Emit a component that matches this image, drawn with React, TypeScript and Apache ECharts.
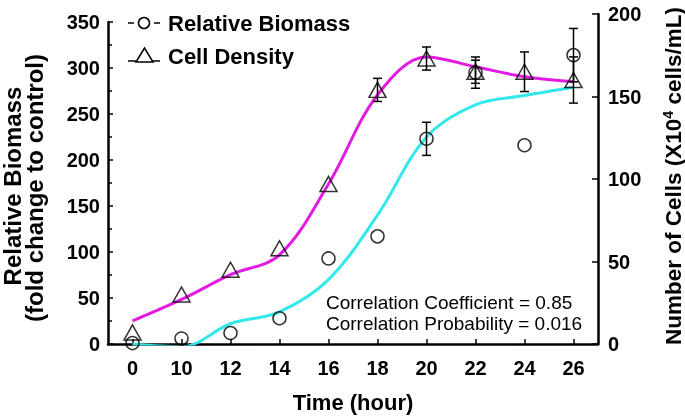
import React, { useEffect, useRef } from "react";
import * as echarts from "echarts";

const categories = ["0", "10", "12", "14", "16", "18", "20", "22", "24", "26"];
const biomass = [1, 6, 12, 28, 93, 117, 223, 295, 216, 314];
const biomassErr = [0, 0, 0, 0, 0, 0, 18, 17, 0, 29];
const cells = [7, 30, 45, 58, 97, 154, 173, 165, 165, 160];
const cellsErr = [0, 0, 0, 0, 0, 7, 7, 7, 12, 14];
const biomassFit = [0, -3, 22, 35, 70, 140, 225, 260, 270, 279];
const cellsFit = [14, 27, 42, 54, 97, 151, 174, 168, 162, 159];

const FONT = "Liberation Sans, Arial, sans-serif";

function errorSeries(vals: number[], errs: number[], xi: number, yi: number) {
  const data = vals.map((v, i) => [i, v, errs[i]]).filter((d) => d[2] > 0);
  return {
    type: "custom",
    xAxisIndex: xi,
    yAxisIndex: yi,
    z: 3,
    data,
    renderItem: (params: any, api: any) => {
      const x = api.value(0);
      const v = api.value(1);
      const e = api.value(2);
      const hi = api.coord([x, v + e]);
      const lo = api.coord([x, v - e]);
      const w = 4.5;
      const st = { stroke: "#000", lineWidth: 1.5 };
      return {
        type: "group",
        children: [
          { type: "line", shape: { x1: hi[0], y1: hi[1], x2: lo[0], y2: lo[1] }, style: st },
          { type: "line", shape: { x1: hi[0] - w, y1: hi[1], x2: hi[0] + w, y2: hi[1] }, style: st },
          { type: "line", shape: { x1: lo[0] - w, y1: lo[1], x2: lo[0] + w, y2: lo[1] }, style: st },
        ],
      };
    },
  };
}

export default function App() {
  const ref = useRef<HTMLDivElement>(null);
  useEffect(() => {
    const chart = echarts.init(ref.current!, null, { renderer: "svg" });
    const axisLabel = { color: "#000", fontFamily: FONT, fontWeight: "bold", fontSize: 20 };
    const axisLine = { show: true, lineStyle: { color: "#000", width: 2.5 } };
    const nameFont = (s: number) => `bold ${s}px ${FONT}`;
    chart.setOption({
      animation: false,
      grid: [
        { left: 108, right: 87, top: 22, bottom: 74, outerBoundsMode: "none", containLabel: false },
        { left: 108, right: 87, top: 14, bottom: 74, outerBoundsMode: "none", containLabel: false },
      ],
      xAxis: [
        {
          type: "category",
          gridIndex: 0,
          data: categories,
          boundaryGap: true,
          axisLine,
          axisTick: { show: true, inside: true, alignWithLabel: true, length: 5, lineStyle: { color: "#000", width: 1.5 } },
          axisLabel: { ...axisLabel, margin: 14 },
          name: "Time (hour)",
          nameLocation: "middle",
          nameGap: 58,
          nameTextStyle: { color: "#000", fontFamily: FONT, fontWeight: "bold", fontSize: 22, verticalAlign: "middle" },
          splitLine: { show: false },
        },
        {
          type: "category",
          gridIndex: 1,
          data: categories,
          boundaryGap: true,
          show: false,
        },
      ],
      yAxis: [
        {
          type: "value",
          gridIndex: 0,
          min: 0,
          max: 350,
          interval: 50,
          position: "left",
          axisLine,
          axisTick: { show: true, inside: true, length: 5, lineStyle: { color: "#000", width: 1.5 } },
          minorTick: { show: true, splitNumber: 2, length: 4, lineStyle: { color: "#000", width: 1.5 } },
          axisLabel: { ...axisLabel, margin: 8 },
          splitLine: { show: false },
        },
        {
          type: "value",
          gridIndex: 1,
          min: 0,
          max: 200,
          interval: 50,
          position: "right",
          axisLine,
          axisTick: { show: true, inside: true, length: 6, lineStyle: { color: "#000", width: 1.5 } },
          axisLabel: { ...axisLabel, margin: 10 },
          splitLine: { show: false },
        },
      ],
      series: [
        {
          type: "line",
          xAxisIndex: 1,
          yAxisIndex: 1,
          data: cellsFit,
          smooth: 0.35,
          symbol: "none",
          lineStyle: { color: "#e21ae2", width: 3 },
          z: 1,
        },
        {
          type: "line",
          xAxisIndex: 0,
          yAxisIndex: 0,
          data: biomassFit,
          smooth: 0.35,
          symbol: "none",
          lineStyle: { color: "#33e8ea", width: 3 },
          z: 1,
        },
        errorSeries(biomass, biomassErr, 0, 0),
        errorSeries(cells, cellsErr, 1, 1),
        {
          name: "Relative Biomass",
          type: "scatter",
          xAxisIndex: 0,
          yAxisIndex: 0,
          data: biomass,
          symbol: "circle",
          symbolSize: 13,
          itemStyle: { color: "rgba(255,255,255,0)", borderColor: "#000", borderWidth: 1.5 },
          z: 4,
        },
        {
          name: "Cell Density",
          type: "scatter",
          xAxisIndex: 1,
          yAxisIndex: 1,
          data: cells,
          symbol: "triangle",
          symbolSize: [17, 15],
          itemStyle: { color: "rgba(255,255,255,0)", borderColor: "#000", borderWidth: 1.5 },
          z: 4,
        },
      ],
      graphic: [
        {
          type: "text",
          x: 12.5,
          y: 186,
          rotation: Math.PI / 2,
          style: { text: "Relative Biomass", fill: "#000", font: nameFont(24), align: "center", verticalAlign: "middle" },
        },
        {
          type: "text",
          x: 34.5,
          y: 188,
          rotation: Math.PI / 2,
          style: { text: "(fold change to control)", fill: "#000", font: nameFont(24), align: "center", verticalAlign: "middle" },
        },
        {
          type: "text",
          x: 673,
          y: 176,
          rotation: Math.PI / 2,
          style: {
            text: "Number of Cells (X10{sup|4} cells/mL)",
            fill: "#000",
            font: nameFont(22.5),
            align: "center",
            verticalAlign: "middle",
            rich: {
              sup: {
                fill: "#000",
                font: nameFont(14),
                verticalAlign: "top",
                padding: [0, 0, 10, 0],
              },
            },
          },
        },
        { type: "line", shape: { x1: 128, y1: 23, x2: 134, y2: 23 }, style: { stroke: "#000", lineWidth: 1.5 } },
        { type: "circle", shape: { cx: 144, cy: 23, r: 5.5 }, style: { fill: "none", stroke: "#000", lineWidth: 1.5 } },
        { type: "line", shape: { x1: 154, y1: 23, x2: 160, y2: 23 }, style: { stroke: "#000", lineWidth: 1.5 } },
        {
          type: "text",
          x: 168,
          y: 23,
          style: { text: "Relative Biomass", fill: "#000", font: `bold 22px ${FONT}`, verticalAlign: "middle" },
        },
        { type: "line", shape: { x1: 128, y1: 61, x2: 160, y2: 61 }, style: { stroke: "#000", lineWidth: 1.5 } },
        {
          type: "polygon",
          shape: { points: [[144.5, 48], [136, 62], [153, 62]] },
          style: { fill: "#fff", stroke: "#000", lineWidth: 1.5 },
        },
        {
          type: "text",
          x: 168,
          y: 56,
          style: { text: "Cell Density", fill: "#000", font: `bold 22px ${FONT}`, verticalAlign: "middle" },
        },
        {
          type: "text",
          x: 326,
          y: 302,
          style: { text: "Correlation Coefficient = 0.85", fill: "#000", font: `19px ${FONT}`, verticalAlign: "middle" },
        },
        {
          type: "text",
          x: 326,
          y: 323,
          style: { text: "Correlation Probability = 0.016", fill: "#000", font: `19px ${FONT}`, verticalAlign: "middle" },
        },
      ],
    });
    return () => chart.dispose();
  }, []);
  return <div ref={ref} style={{ position: "fixed", left: 0, top: 0, width: 685, height: 418 }} />;
}
